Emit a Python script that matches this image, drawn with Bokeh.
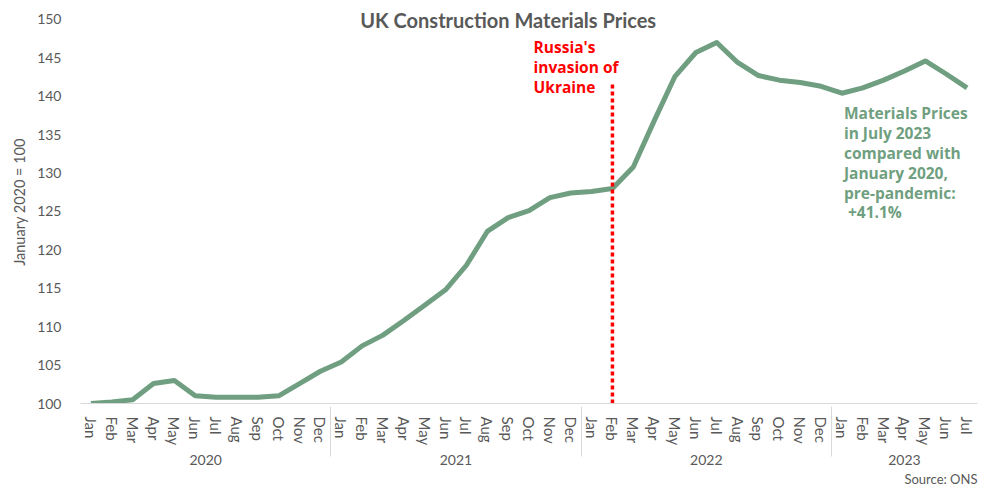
from bokeh.plotting import figure
from bokeh.models import FactorRange, Range1d, FixedTicker, ColumnDataSource, Title
from bokeh.core.properties import value
from bokeh.embed import file_html
from bokeh.resources import INLINE

# ---- data ----
years = ["2020"] * 12 + ["2021"] * 12 + ["2022"] * 12 + ["2023"] * 7
months = (["Jan", "Feb", "Mar", "Apr", "May", "Jun", "Jul", "Aug", "Sep", "Oct", "Nov", "Dec"] * 3
          + ["Jan", "Feb", "Mar", "Apr", "May", "Jun", "Jul"])
prices = [100.0, 100.2, 100.5, 102.6, 103.0, 101.0, 100.8, 100.8, 100.8, 101.0, 102.6, 104.2,
          105.4, 107.5, 108.9, 110.8, 112.8, 114.8, 118.0, 122.4, 124.2, 125.1, 126.8, 127.4,
          127.6, 128.0, 130.8, 136.8, 142.6, 145.7, 147.0, 144.4, 142.7, 142.1, 141.8, 141.3,
          140.4, 141.1, 142.1, 143.3, 144.6, 142.9, 141.1]
y_ticks = [100, 105, 110, 115, 120, 125, 130, 135, 140, 145, 150]
invasion_month = ("2022", "Feb")
invasion_top = 141.8

factors = list(zip(years, months))

FONT = "Lato"
BOLD_FONT = "Open Sans"
GREY = "#595959"
GREEN = "#6f9f80"
RED = "#ff0000"

p = figure(
    width=982, height=494,
    x_range=FactorRange(*factors, group_padding=0, range_padding=0),
    y_range=Range1d(100, 152.47),
    output_backend="svg", toolbar_location=None,
    min_border_left=80, min_border_right=5, min_border_top=0, min_border_bottom=91,
)
p.outline_line_color = None
p.xgrid.grid_line_color = None
p.ygrid.grid_line_color = None
p.background_fill_color = "white"
p.border_fill_color = "white"

# line
src = ColumnDataSource(dict(x=factors, y=prices))
p.line("x", "y", source=src, line_width=5, line_color=GREEN, line_join="round")

# invasion marker
p.segment(x0=[invasion_month], y0=[y_ticks[0]], x1=[invasion_month], y1=[invasion_top],
          line_color=RED, line_width=3.5, line_dash="4 3")

# y axis
ya = p.yaxis[0]
ya.ticker = FixedTicker(ticks=y_ticks)
ya.axis_line_color = None
ya.major_tick_line_color = None
ya.minor_tick_line_color = None
ya.major_label_text_font = FONT
ya.major_label_text_font_size = "14px"
ya.major_label_text_color = GREY
ya.major_label_standoff = 13
ya.axis_label = "January 2020 = 100"
ya.axis_label_text_font = FONT
ya.axis_label_text_font_size = "14.5px"
ya.axis_label_text_font_style = "normal"
ya.axis_label_text_color = GREY
ya.axis_label_standoff = 6

# x axis
xa = p.xaxis[0]
xa.axis_line_color = "#d9d9d9"
xa.major_tick_line_color = None
xa.minor_tick_line_color = None
xa.major_label_orientation = "vertical"
xa.major_label_text_font = FONT
xa.major_label_text_font_size = "15px"
xa.major_label_text_color = GREY
xa.major_label_standoff = 7
xa.group_text_font = FONT
xa.group_text_font_size = "14px"
xa.group_text_font_style = "normal"
xa.group_text_color = GREY
xa.separator_line_color = "#d9d9d9"
xa.separator_line_width = 1

# source note below the axis
p.add_layout(Title(text="Source: ONS", align="right", text_font=FONT, text_font_size="13px",
                   text_font_style="normal", text_color=GREY, standoff=0), "below")

# title
p.text(x=[("2021", "Sep")], y=[149.9], text=["UK Construction Materials Prices"],
       text_align="center", text_baseline="middle",
       text_font=value(FONT), text_font_size="20px", text_font_style="bold", text_color=GREY)

# red annotation
p.text(x=[("2022", "Jan")], y=[147.79], text=["Russia's\ninvasion of\nUkraine"],
       x_offset=-58, text_align="left", text_baseline="top", text_line_height=0.89,
       text_font=value(BOLD_FONT), text_font_size="15.5px", text_font_style="bold", text_color=RED)

# green annotation
p.text(x=[("2023", "Jan")], y=[139.19],
       text=["Materials Prices\nin July 2023\ncompared with\nJanuary 2020,\npre-pandemic:\n\u00a0+41.1%"],
       x_offset=2, text_align="left", text_baseline="top", text_line_height=0.9,
       text_font=value(BOLD_FONT), text_font_size="15.5px", text_font_style="bold", text_color=GREEN)

open("out.html", "w").write(file_html(p, INLINE))
